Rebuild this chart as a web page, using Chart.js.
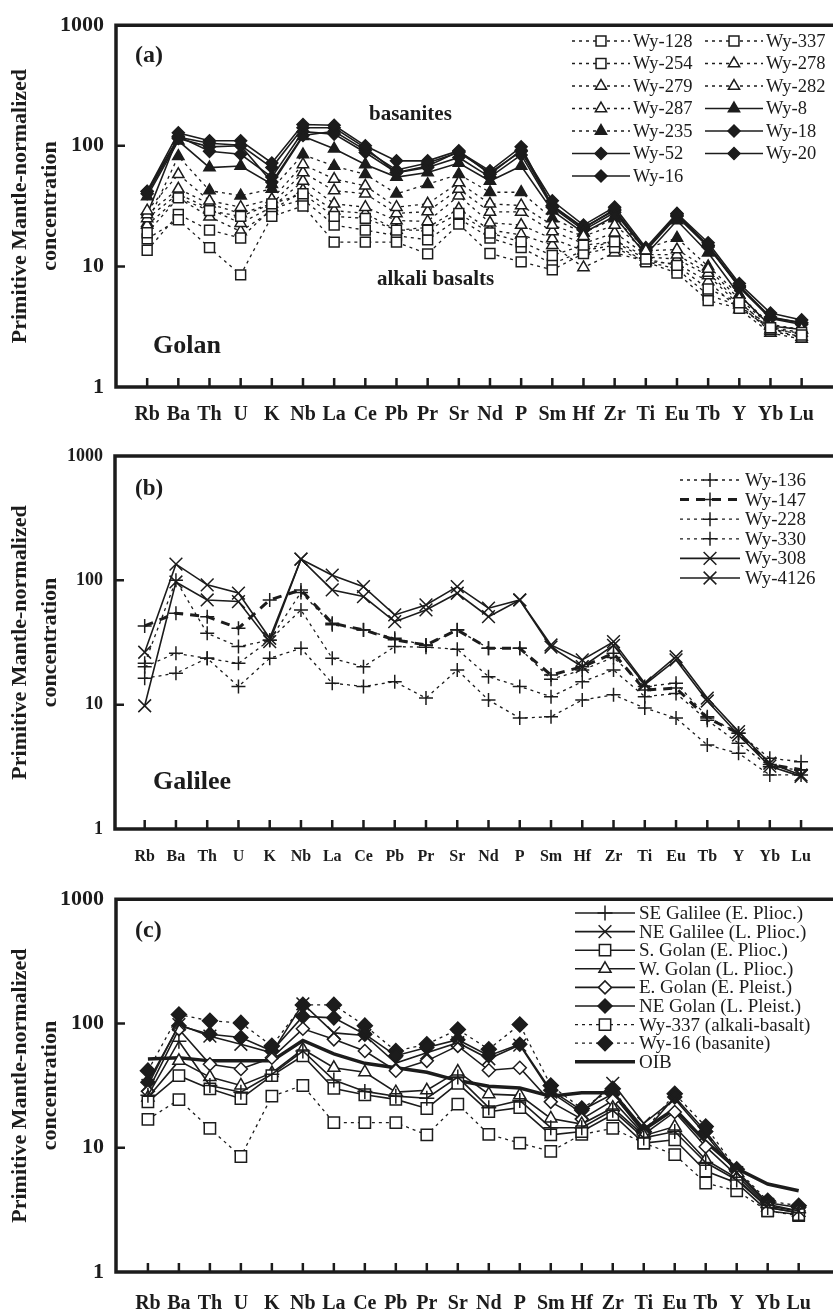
<!DOCTYPE html>
<html>
<head>
<meta charset="utf-8">
<title>Primitive mantle-normalized spider diagrams</title>
<script src="https://cdn.jsdelivr.net/npm/chart.js@4.4.1/dist/chart.umd.min.js"></script>
<style>
  html, body { margin: 0; padding: 0; background: #fff; width: 833px; height: 1313px; overflow: hidden; }
  canvas { position: absolute; left: 0; }
</style>
</head>
<body>
<canvas id="golan" width="860" height="432" style="top:0px"></canvas>
<canvas id="galilee" width="860" height="442" style="top:432px"></canvas>
<canvas id="compare" width="860" height="439" style="top:874px"></canvas>
<script>
const elements = ['Rb', 'Ba', 'Th', 'U', 'K', 'Nb', 'La', 'Ce', 'Pb', 'Pr', 'Sr', 'Nd', 'P', 'Sm', 'Hf', 'Zr', 'Ti', 'Eu', 'Tb', 'Y', 'Yb', 'Lu'];

// (a) Golan samples
const wy128 = [19, 37, 29, 26, 33, 40, 26, 25, 20, 20, 27.5, 18.9, 16, 12.3, 15, 16, 11.5, 10.2, 6.5, 5.0, 3.1, 2.7];
const wy254 = [13.6, 27, 20, 17.2, 30, 36, 22, 20, 18, 16.6, 25, 17.2, 14.3, 10.5, 13.5, 15, 11, 9.5, 5.8, 4.7, 3.0, 2.6];
const wy337 = [16.9, 24.4, 14.3, 8.5, 26, 31.7, 15.9, 15.9, 15.9, 12.7, 22.4, 12.8, 10.9, 9.35, 12.8, 14.3, 10.9, 8.8, 5.2, 4.5, 3.1, 2.84];
const wy278 = [29, 58, 35, 31, 36, 70, 53, 46.6, 31, 33, 49.6, 33, 32, 22, 17.8, 22, 13.5, 13.8, 9.5, 5.4, 3.2, 3.0];
const wy279 = [27, 44, 33, 27.5, 33, 60, 42.5, 40, 27.5, 28.5, 43.8, 28.3, 28.3, 19.5, 15.5, 19, 12.5, 12.5, 8.8, 5.1, 3.0, 2.8];
const wy282 = [25, 40, 30, 22.8, 31, 51, 33, 31, 24, 23.6, 38.6, 23, 22, 17, 13.5, 16.5, 12, 11.5, 8.4, 4.8, 2.9, 2.6];
const wy287 = [22, 37, 25.8, 19.5, 29, 43, 29, 27.5, 20, 21, 30, 20, 18.3, 15, 9.8, 13, 11, 10.5, 7.5, 4.4, 2.8, 2.5];
const wy235 = [22.8, 82, 42.5, 38.6, 43.9, 84.5, 67.9, 58, 40, 48, 58, 41.2, 41.2, 25, 19, 25, 14, 17.2, 10, 5.8, 3.3, 3.0];
const wy8 = [38, 110, 66, 68, 48, 120, 94.5, 70, 55, 60, 72, 51, 68, 29, 19, 26, 12.5, 24, 13, 5.8, 3.2, 3.0];
const wy18 = [42, 128, 110, 110, 72, 150, 148, 100, 75, 75, 91, 58, 92, 35, 22, 31, 14.3, 27.5, 15.7, 7.2, 4.1, 3.6];
const wy52 = [27, 120, 90, 85, 55, 131, 125, 88, 60, 66, 80, 55, 84, 31, 20, 28, 13.5, 26, 14.5, 6.8, 3.7, 3.3];
const wy20 = [40, 115, 98, 100, 50, 122, 132, 92, 63, 72, 88, 60, 90, 32, 21, 29, 13.8, 26.5, 15, 6.9, 3.8, 3.4];
const wy16 = [41.7, 118, 105, 101, 66, 141, 141, 96, 60, 68, 89.5, 62, 98, 31.7, 20.7, 29.8, 13.5, 27.2, 14.8, 6.7, 3.74, 3.41];

// (b) Galilee samples
const wy136 = [21.5, 100, 37.5, 29.3, 33, 80, 44, 40, 34.2, 30, 40, 28.4, 28.4, 16, 19, 24, 14, 14.9, 8.0, 5.9, 3.7, 3.48];
const wy147 = [43, 54.4, 51, 41.2, 69.5, 83.7, 45.2, 39.9, 33.2, 30.2, 39.9, 28.4, 28.4, 17.3, 20.2, 25.9, 13.1, 13.6, 7.8, 5.9, 3.3, 3.0];
const wy228 = [20.2, 25.9, 23.6, 21.5, 33, 57.8, 23.6, 20.2, 29.3, 29, 27.9, 16.8, 14.0, 11.6, 15.3, 19, 11.6, 12.3, 7.5, 4.9, 3.17, 2.98];
const wy330 = [16.3, 17.9, 23.6, 14, 23.6, 28.4, 14.9, 14, 15.3, 11.3, 19, 10.9, 7.8, 8.0, 10.9, 12, 9.4, 7.8, 4.74, 4.06, 2.72, 2.72];
const wy308 = [26.4, 135, 92, 79, 34.2, 148, 110, 89, 52.7, 63.4, 89, 59.7, 69.5, 30.2, 22.9, 32.1, 14.9, 24.3, 11.3, 6.07, 3.38, 2.72];
const wy4126 = [9.8, 97, 69.5, 67.5, 32.1, 148, 83.7, 74, 46.5, 57.8, 78.7, 51, 69.5, 29, 20.2, 30, 14.5, 22.9, 10.7, 5.7, 3.2, 2.65];

// (c) regional averages
const seGalilee = [26.4, 72, 31.7, 28, 39, 60, 35, 28.4, 26, 25, 37, 21, 24, 14.5, 14.5, 20, 12, 13.5, 7.6, 5.5, 3.3, 3.0];
const neGalilee = [31.7, 98, 79, 68, 58, 144, 84, 80, 48, 58, 70, 52, 67, 28, 19, 33, 15.7, 24.7, 12.8, 6.3, 3.5, 3.1];
const sGolan = [23.4, 38, 29.8, 24.8, 38, 55, 30, 26.7, 24.5, 20.7, 33, 19.5, 21, 12.7, 13.5, 18.5, 10.9, 11.6, 6.5, 5.2, 3.1, 2.9];
const wGolan = [25.4, 50, 37, 31.7, 40, 62, 44, 40.5, 28, 29, 41, 27, 26.4, 17.2, 15.5, 21, 12.5, 14.8, 8, 5.7, 3.3, 3.0];
const eGolan = [28.5, 90, 47, 43, 53, 90.6, 74.5, 60, 41.7, 50, 66, 42, 44, 23.4, 17, 24, 12.8, 19.4, 10.2, 6.0, 3.4, 3.1];
const neGolan = [33.7, 96, 82, 77, 60, 114, 111, 82, 55, 64, 74, 55, 68, 29, 20, 27, 13.2, 25.6, 13.5, 6.5, 3.6, 3.3];
const oib = [51.7, 53, 50, 50, 50, 73, 57, 47.8, 44, 40.5, 34.7, 31.3, 30.2, 26, 27.7, 27.7, 14, 20.5, 11.2, 6.8, 5.1, 4.5];

const INK = '#1c1c1c';
const SERIF = "'Liberation Serif', 'Times New Roman', serif";

// marker and line presets
const open = { pointBackgroundColor: '#fff', pointBorderColor: INK };
const filled = { pointBackgroundColor: INK, pointBorderColor: INK };
const dashed = { borderDash: [3, 4], borderWidth: 1.3 };
const solid = { borderDash: [], borderWidth: 1.6 };

function series(label, values, style) {
  return Object.assign({
    label,
    data: values.map((v, i) => ({ x: i, y: v })),
    borderColor: INK,
    fill: false,
    pointBorderWidth: 1.5
  }, style);
}

const square = (r) => ({ pointStyle: 'rect', pointRadius: r, ...open });
const triOpen = (r) => ({ pointStyle: 'triangle', pointRadius: r, ...open });
const triFill = (r) => ({ pointStyle: 'triangle', pointRadius: r, ...filled });
const diaFill = (r) => ({ pointStyle: 'rectRot', pointRadius: r, ...filled });
const diaOpen = (r) => ({ pointStyle: 'rectRot', pointRadius: r, ...open });
const plus = (r) => ({ pointStyle: 'cross', pointRadius: r, ...open });
const times = (r) => ({ pointStyle: 'crossRot', pointRadius: r, ...open });

// axis frame with inward tick marks
const frame = {
  id: 'frame',
  afterDatasetsDraw(chart) {
    const { ctx, chartArea: a, scales: { x, y } } = chart;
    ctx.save();
    ctx.strokeStyle = INK;
    ctx.lineJoin = 'miter';
    ctx.lineWidth = 3.5;
    ctx.beginPath();
    ctx.moveTo(chart.width, a.top);
    ctx.lineTo(a.left, a.top);
    ctx.lineTo(a.left, a.bottom);
    ctx.lineTo(chart.width, a.bottom);
    ctx.stroke();
    ctx.lineWidth = 2.5;
    ctx.beginPath();
    x.ticks.forEach(t => {
      const px = x.getPixelForValue(t.value);
      ctx.moveTo(px, a.bottom);
      ctx.lineTo(px, a.bottom - 9);
    });
    [10, 100].forEach(v => {
      const py = y.getPixelForValue(v);
      ctx.moveTo(a.left, py);
      ctx.lineTo(a.left + 9, py);
    });
    ctx.stroke();
    ctx.restore();
  }
};

// legend drawn inside the plot: line sample, marker, label
const sampleLegend = {
  id: 'sampleLegend',
  afterDraw(chart, args, o) {
    const ctx = chart.ctx;
    ctx.save();
    ctx.font = o.font;
    ctx.textBaseline = 'middle';
    chart.data.datasets.forEach((ds, i) => {
      const col = i % o.cols;
      const row = Math.floor(i / o.cols);
      const x = o.x + col * o.colWidth;
      const y = o.y + row * o.rowHeight;
      ctx.strokeStyle = ds.borderColor;
      ctx.lineWidth = ds.borderWidth;
      ctx.setLineDash(ds.borderDash || []);
      ctx.beginPath();
      ctx.moveTo(x, y);
      ctx.lineTo(x + o.lineLength, y);
      ctx.stroke();
      ctx.setLineDash([]);
      if (ds.pointRadius > 0) {
        ctx.fillStyle = ds.pointBackgroundColor;
        ctx.strokeStyle = ds.pointBorderColor;
        ctx.lineWidth = ds.pointBorderWidth;
        Chart.helpers.drawPoint(ctx, {
          pointStyle: ds.pointStyle,
          radius: ds.pointRadius,
          borderWidth: ds.pointBorderWidth,
          rotation: 0
        }, x + o.lineLength / 2, y);
      }
      ctx.fillStyle = INK;
      ctx.fillText(ds.label, x + o.lineLength + o.gap, y + 1);
    });
    ctx.restore();
  }
};

// free text labels on the plot
const notes = {
  id: 'notes',
  afterDraw(chart, args, o) {
    const ctx = chart.ctx;
    ctx.save();
    ctx.fillStyle = INK;
    ctx.textBaseline = 'middle';
    (o.items || []).forEach(n => {
      ctx.font = n.font;
      ctx.fillText(n.text, n.x, n.y);
    });
    ctx.restore();
  }
};

function spiderChart(id, cfg) {
  return new Chart(document.getElementById(id), {
    type: 'line',
    data: { datasets: cfg.datasets },
    options: {
      responsive: false,
      animation: false,
      events: [],
      layout: { padding: { top: cfg.padTop, left: 0, right: 0, bottom: 0 } },
      elements: { line: { tension: 0 } },
      scales: {
        x: {
          type: 'linear',
          min: cfg.xMin,
          max: cfg.xMax,
          grid: { display: false, drawTicks: false },
          border: { display: false },
          afterBuildTicks: s => { s.ticks = elements.map((e, i) => ({ value: i })); },
          afterFit: s => { s.height = cfg.xHeight; },
          ticks: {
            autoSkip: false,
            maxRotation: 0,
            padding: cfg.xPad,
            color: INK,
            font: { family: SERIF, size: cfg.xFont, weight: 'bold' },
            callback: v => elements[v]
          }
        },
        y: {
          type: 'logarithmic',
          min: 1,
          max: 1000,
          grid: { display: false, drawTicks: false },
          border: { display: false },
          afterBuildTicks: s => { s.ticks = [1, 10, 100, 1000].map(v => ({ value: v })); },
          afterFit: s => { s.width = cfg.yWidth; },
          ticks: {
            autoSkip: false,
            padding: 12,
            color: INK,
            font: { family: SERIF, size: cfg.yFont, weight: 'bold' },
            callback: v => String(v)
          },
          title: {
            display: true,
            text: ['Primitive Mantle-normalized', 'concentration'],
            color: INK,
            font: { family: SERIF, size: 22, weight: 'bold', lineHeight: 1.38 },
            padding: { top: 5, bottom: 0 }
          }
        }
      },
      plugins: {
        legend: { display: false },
        tooltip: { enabled: false },
        sampleLegend: cfg.legend,
        notes: { items: cfg.notes }
      }
    },
    plugins: [frame, sampleLegend, notes]
  });
}

// (a) Golan
spiderChart('golan', {
  padTop: 18, xHeight: 45, xPad: 16, xFont: 20, yFont: 22, yWidth: 116,
  xMin: -1.0, xMax: 22.6,
  datasets: [
    series('Wy-128', wy128, { ...dashed, ...square(7) }),
    series('Wy-337', wy337, { ...dashed, ...square(7) }),
    series('Wy-254', wy254, { ...dashed, ...square(7) }),
    series('Wy-278', wy278, { ...dashed, ...triOpen(6.5) }),
    series('Wy-279', wy279, { ...dashed, ...triOpen(6.5) }),
    series('Wy-282', wy282, { ...dashed, ...triOpen(6.5) }),
    series('Wy-287', wy287, { ...dashed, ...triOpen(6.5) }),
    series('Wy-8', wy8, { ...solid, ...triFill(6.5) }),
    series('Wy-235', wy235, { ...dashed, ...triFill(6.5) }),
    series('Wy-18', wy18, { ...solid, ...diaFill(6) }),
    series('Wy-52', wy52, { ...solid, ...diaFill(6) }),
    series('Wy-20', wy20, { ...solid, ...diaFill(6) }),
    series('Wy-16', wy16, { ...solid, ...diaFill(6) })
  ],
  legend: { x: 572, y: 41, cols: 2, colWidth: 133, rowHeight: 22.5, lineLength: 58, gap: 3, font: `18.5px ${SERIF}` },
  notes: [
    { text: '(a)', x: 135, y: 56, font: `bold 24px ${SERIF}` },
    { text: 'basanites', x: 369, y: 115, font: `bold 21px ${SERIF}` },
    { text: 'alkali basalts', x: 377, y: 280, font: `bold 21px ${SERIF}` },
    { text: 'Golan', x: 153, y: 346, font: `bold 26px ${SERIF}` }
  ]
});

// (b) Galilee
spiderChart('galilee', {
  padTop: 24, xHeight: 45, xPad: 18, xFont: 16, yFont: 18, yWidth: 115,
  xMin: -0.95, xMax: 22.55,
  datasets: [
    series('Wy-136', wy136, { ...dashed, ...plus(7) }),
    series('Wy-147', wy147, { borderDash: [9, 7], borderWidth: 3, ...plus(7) }),
    series('Wy-228', wy228, { ...dashed, ...plus(7) }),
    series('Wy-330', wy330, { ...dashed, ...plus(7) }),
    series('Wy-308', wy308, { ...solid, ...times(9) }),
    series('Wy-4126', wy4126, { ...solid, ...times(9) })
  ],
  legend: { x: 680, y: 48, cols: 1, colWidth: 0, rowHeight: 19.6, lineLength: 60, gap: 5, font: `19px ${SERIF}` },
  notes: [
    { text: '(b)', x: 135, y: 57, font: `bold 23px ${SERIF}` },
    { text: 'Galilee', x: 153, y: 350, font: `bold 26px ${SERIF}` }
  ]
});

// (c) comparison with OIB
spiderChart('compare', {
  padTop: 21, xHeight: 41, xPad: 20, xFont: 20, yFont: 22, yWidth: 116,
  xMin: -1.03, xMax: 22.64,
  datasets: [
    series('SE Galilee (E. Plioc.)', seGalilee, { ...solid, ...plus(7.5) }),
    series('NE Galilee (L. Plioc.)', neGalilee, { ...solid, ...times(9) }),
    series('S. Golan (E. Plioc.)', sGolan, { ...solid, ...square(8) }),
    series('W. Golan (L. Plioc.)', wGolan, { ...solid, ...triOpen(7) }),
    series('E. Golan (E. Pleist.)', eGolan, { ...solid, ...diaOpen(6.5) }),
    series('NE Golan (L. Pleist.)', neGolan, { ...solid, ...diaFill(7) }),
    series('Wy-337 (alkali-basalt)', wy337, { ...dashed, ...square(8) }),
    series('Wy-16 (basanite)', wy16, { ...dashed, ...diaFill(7.5) }),
    series('OIB', oib, { borderDash: [], borderWidth: 3.5, pointRadius: 0 })
  ],
  legend: { x: 575, y: 39, cols: 1, colWidth: 0, rowHeight: 18.6, lineLength: 60, gap: 4, font: `19px ${SERIF}` },
  notes: [
    { text: '(c)', x: 135, y: 57, font: `bold 24px ${SERIF}` }
  ]
});
</script>
</body>
</html>
